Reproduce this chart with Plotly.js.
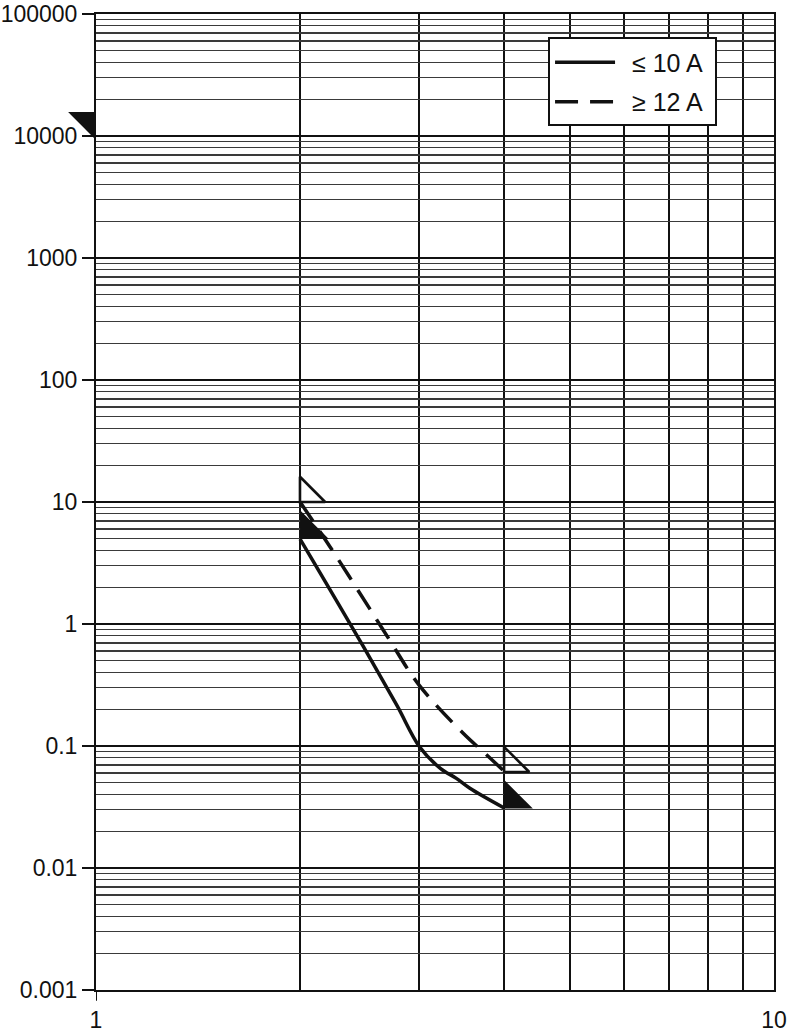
<!DOCTYPE html>
<html>
<head>
<meta charset="utf-8">
<script src="https://cdn.plot.ly/plotly-3.0.1.min.js"></script>
<style>html,body{margin:0;padding:0;background:#fff;}#chart{width:790px;height:1036px;}</style>
</head>
<body>
<div id="chart"></div>
<script>
// ---- data ----
const seriesNames = ['\u2264 10 A', '\u2265 12 A'];

// solid curve (<= 10 A)
const lowX = [2.0, 2.48, 2.78, 3.0, 3.22, 3.40, 3.56, 4.0];
const lowY = [4.97, 0.652, 0.214, 0.0987, 0.0656, 0.0543, 0.045, 0.031];

// dashed curve (>= 12 A)
const highX = [2.0, 2.23, 2.55, 2.71, 2.99, 3.48, 3.77, 4.0];
const highY = [10, 4.04, 1.26, 0.74, 0.32, 0.127, 0.0844, 0.062];

// filled right-triangle markers on the curves
const filledX = [2.066, 4.130];
const filledY = [5.963, 0.0368];

// hollow right-triangle markers on the curves
const hollowX = [2.057, 4.114];
const hollowY = [11.72, 0.0717];

// filled marker on the left axis
const axisMarkX = [1];
const axisMarkY = [13196];

// axis ticks
const xTickVals = [1, 10];
const xTickText = ['1', '10'];
const xMinorVals = [2, 3, 4, 5, 6, 7, 8, 9];
const yTickVals = [0.001, 0.01, 0.1, 1, 10, 100, 1000, 10000, 100000];
const yTickText = ['0.001', '0.01', '0.1', '1', '10', '100', '1000', '10000', '100000'];
const yMinorDigits = [2, 3, 4, 5, 6, 7, 8, 9];

// ---- build ----
const yMinorVals = [];
yTickVals.slice(0, -1).forEach(d => yMinorDigits.forEach(m => yMinorVals.push(+(d * m).toPrecision(3))));

const FONT = 'Liberation Sans, Arial, Helvetica, sans-serif';
const LEAD = '\u00a0\u2009';
const TRAIL = '\u00a0';
const INK = '#111';

const traces = [
  {
    x: lowX, y: lowY, name: LEAD + seriesNames[0] + TRAIL, type: 'scatter', mode: 'lines',
    line: {color: INK, width: 3.5, dash: 'solid', shape: 'spline', smoothing: 1.0}, legendgroup: 'a'
  },
  {
    x: highX, y: highY, name: LEAD + seriesNames[1] + TRAIL, type: 'scatter', mode: 'lines',
    line: {color: INK, width: 3.5, dash: '23px,12px', shape: 'spline', smoothing: 1.0}, legendgroup: 'b'
  },
  {
    x: filledX, y: filledY, type: 'scatter', mode: 'markers', showlegend: false,
    cliponaxis: false, hoverinfo: 'skip',
    marker: {symbol: 'triangle-sw', size: 32, color: INK, opacity: 1, line: {width: 0}}
  },
  {
    x: hollowX, y: hollowY, type: 'scatter', mode: 'markers', showlegend: false,
    cliponaxis: false, hoverinfo: 'skip',
    marker: {symbol: 'triangle-sw-open', size: 28, color: INK, opacity: 1, line: {width: 2.6, color: INK}}
  },
  {
    x: axisMarkX, y: axisMarkY, type: 'scatter', mode: 'markers', showlegend: false,
    cliponaxis: false, hoverinfo: 'skip',
    marker: {symbol: 'triangle-nw', angle: 90, standoff: 9.3, size: 31, color: INK, opacity: 1, line: {width: 0}}
  }
];

const layout = {
  width: 790, height: 1036,
  margin: {l: 96, r: 16, t: 14, b: 46, pad: 0},
  paper_bgcolor: '#fff', plot_bgcolor: '#fff',
  font: {family: FONT, size: 23, color: INK},
  showlegend: true,
  legend: {
    x: 0.916, xanchor: 'right', y: 0.976, yanchor: 'top',
    bgcolor: '#fff', bordercolor: INK, borderwidth: 2,
    font: {family: FONT, size: 25, color: INK},
    itemwidth: 60, traceorder: 'grouped', tracegroupgap: 4
  },
  xaxis: {
    type: 'log', range: [0, 1],
    tickmode: 'array', tickvals: xTickVals, ticktext: xTickText,
    ticks: '', ticklabelstandoff: 8,
    showgrid: false, zeroline: false,
    showline: true, linecolor: INK, linewidth: 2, mirror: true,
    minor: {tickmode: 'array', tickvals: xMinorVals, showgrid: true, gridcolor: INK, gridwidth: 2, ticks: ''},
    tickfont: {family: FONT, size: 23, color: INK}
  },
  yaxis: {
    type: 'log', range: [-3, 5],
    tickmode: 'array', tickvals: yTickVals, ticktext: yTickText,
    ticks: 'outside', ticklen: 12, tickwidth: 2, tickcolor: INK,
    showgrid: true, gridcolor: INK, gridwidth: 2,
    zeroline: false,
    showline: true, linecolor: INK, linewidth: 2, mirror: true,
    minor: {tickmode: 'array', tickvals: yMinorVals, showgrid: true, gridcolor: '#3a3a3a', gridwidth: 1.3, ticks: ''},
    tickfont: {family: FONT, size: 23, color: INK}
  },
  shapes: [
    {type: 'line', xref: 'x', yref: 'paper', x0: 1, x1: 1, y0: 0, y1: -0.011, line: {color: INK, width: 2}}
  ]
};

Plotly.newPlot('chart', traces, layout, {displayModeBar: false, staticPlot: true});
</script>
</body>
</html>
